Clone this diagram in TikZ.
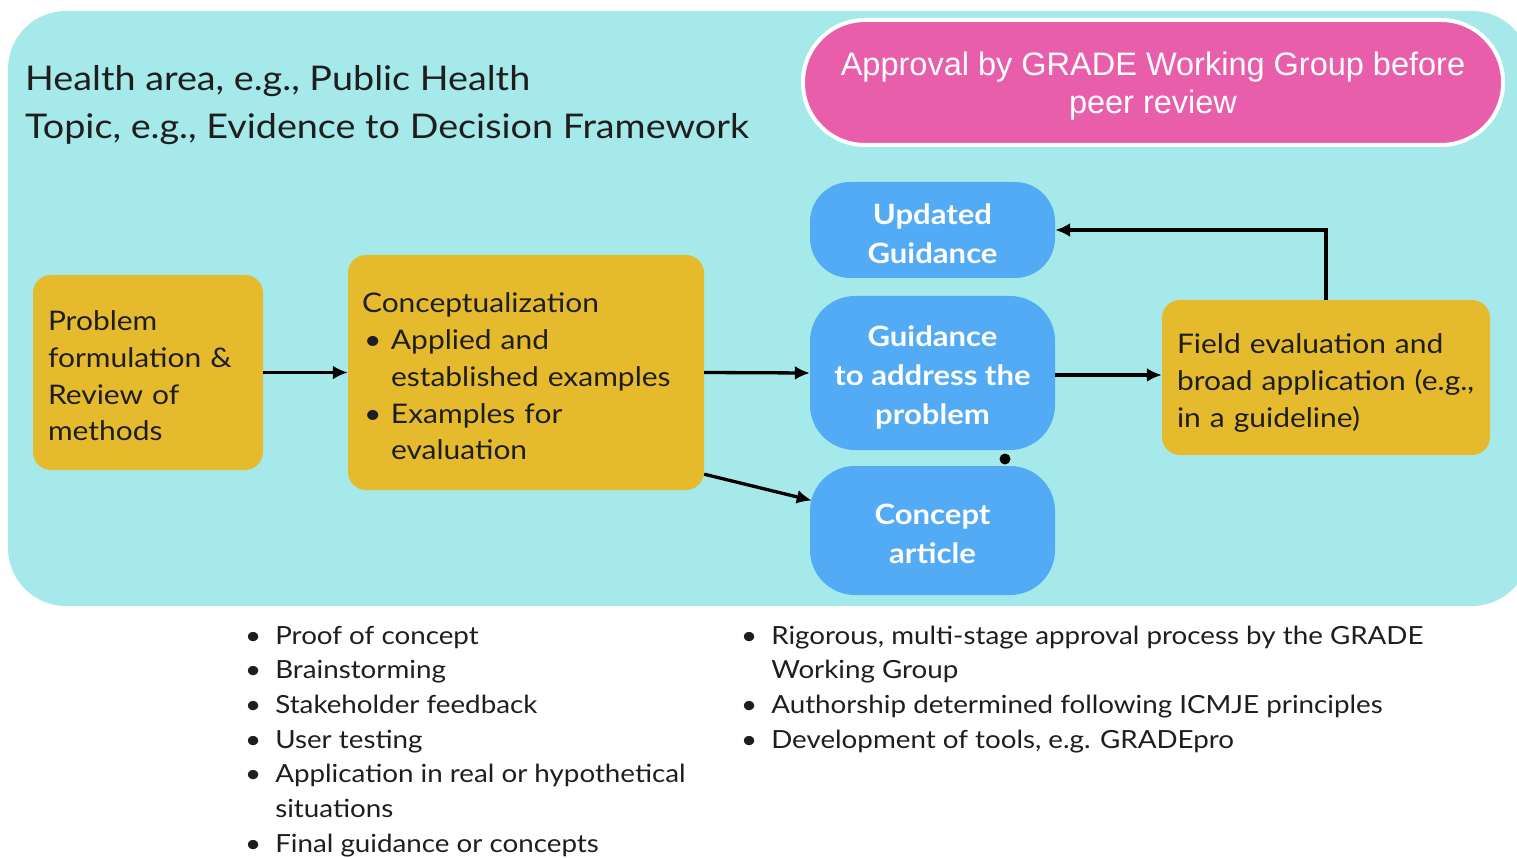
\documentclass[tikz,border=0pt]{standalone}
\usepackage{fontspec}
\setmainfont{Lato}[FakeStretch=1.11]
\newfontfamily\pillfont{Liberation Sans}
\usetikzlibrary{arrows.meta,calc}
\definecolor{bgcyan}{HTML}{A5E9EB}
\definecolor{boxyellow}{HTML}{E5BB2D}
\definecolor{boxblue}{HTML}{53AAF5}
\definecolor{pillpink}{HTML}{E85EAA}
\definecolor{ink}{HTML}{1E1E1E}
\newcommand{\bul}{\makebox[29pt][l]{\hspace{2pt}\textbullet}}
\newcommand{\lift}[1]{\rule{0pt}{#1}}
\begin{document}
\begin{tikzpicture}[x=1pt,y=-1pt,
  ybox/.style={fill=boxyellow, rounded corners=18pt, inner xsep=15pt, inner ysep=0pt,
    align=left, text=ink, font=\fontsize{27}{36.7}\selectfont},
  bbox/.style={fill=boxblue, text=white, align=center, minimum width=245pt,
    inner sep=0pt, font=\bfseries\fontsize{28}{39}\selectfont},
  arr/.style={draw=black, line width=3.3pt, -{Latex[length=15pt,width=14pt]}},
  listtext/.style={anchor=north west, inner sep=0pt, text=ink,
    font=\fontsize{25}{34.7}\selectfont},
  knot/.style={circle, fill=black, inner sep=0pt, minimum size=11pt}]
\useasboundingbox (0,0) rectangle (1517,858);
\fill[white] (0,0) rectangle (1517,858);

% panel behind the flow
\fill[bgcyan, rounded corners=58pt] (8,11) rectangle (1530,606);

% heading
\node[anchor=north west, inner sep=0pt, text=ink, font=\fontsize{34}{48}\selectfont] (heading) at (25,57)
  {\begin{tabular}{@{}l@{}}Health area, e.g., Public Health\\ Topic, e.g., Evidence to Decision Framework\end{tabular}};

% approval pill
\node[fill=pillpink, draw=white, line width=4pt, rounded corners=62pt, minimum width=700pt,
  minimum height=125pt, text=white, align=center, inner sep=0pt,
  font=\pillfont\fontsize{32.5}{38}\selectfont] (approval) at (1153,82.5)
  {\lift{30pt}Approval by GRADE Working Group before\\ peer review};

% flow boxes
\node[ybox, text width=200pt, minimum height=195pt] (problem) at (148,372.5)
  {\lift{27pt}Problem\\ formulation \&\\ Review of\\ methods};
\node[ybox, inner xsep=14pt, text width=328pt, minimum height=235pt] (concept) at (526,372.5)
  {\lift{28pt}Conceptualization\\ \bul Applied and\\ \hspace*{29pt}established examples\\ \bul Examples for\\ \hspace*{29pt}evaluation};
\node[bbox, rounded corners=40pt, minimum height=96pt] (updated) at (932.5,230)
  {\lift{28pt}Updated\\ Guidance};
\node[bbox, rounded corners=45pt, minimum height=154pt] (guidance) at (932.5,373)
  {\lift{29pt}Guidance\\ to address the\\ problem};
\node[bbox, rounded corners=45pt, minimum height=129pt] (article) at (932.5,530.5)
  {\lift{28pt}Concept\\ article};
\node[ybox, text width=298pt, minimum height=155pt] (field) at (1326,377.5)
  {\lift{31pt}Field evaluation and\\ broad application (e.g.,\\ in a guideline)};
\node[knot] (dot) at (1005,459) {};

% connector end points off the node centres
\coordinate (conceptout) at ($(concept.south east)+(0,-16)$);
\coordinate (articlein) at ($(article.west)+(2,-30)$);
\coordinate (guidanceout) at ($(guidance.east)+(0,2)$);

% connectors
\draw[arr] (problem.east) -- (concept.west);
\draw[arr] (concept.east) -- (guidance.west);
\draw[arr] (conceptout) -- (articlein);
\draw[arr] (guidanceout) -- (guidanceout -| field.west);
\draw[arr] (field.north) |- (updated.east);

% notes under the panel
\node[listtext] (notesleft) at (245,619.7)
  {\begin{tabular}{@{}l@{\hspace{14pt}}l@{}}
   \textbullet & Proof of concept\\
   \textbullet & Brainstorming\\
   \textbullet & Stakeholder feedback\\
   \textbullet & User testing\\
   \textbullet & Application in real or hypothetical\\
               & situations\\
   \textbullet & Final guidance or concepts
   \end{tabular}};
\node[listtext] (notesright) at (741,619.7)
  {\begin{tabular}{@{}l@{\hspace{14pt}}l@{}}
   \textbullet & Rigorous, multi-stage approval process by the GRADE\\
               & Working Group\\
   \textbullet & Authorship determined following ICMJE principles\\
   \textbullet & Development of tools, e.g. GRADEpro
   \end{tabular}};
\end{tikzpicture}
\end{document}
